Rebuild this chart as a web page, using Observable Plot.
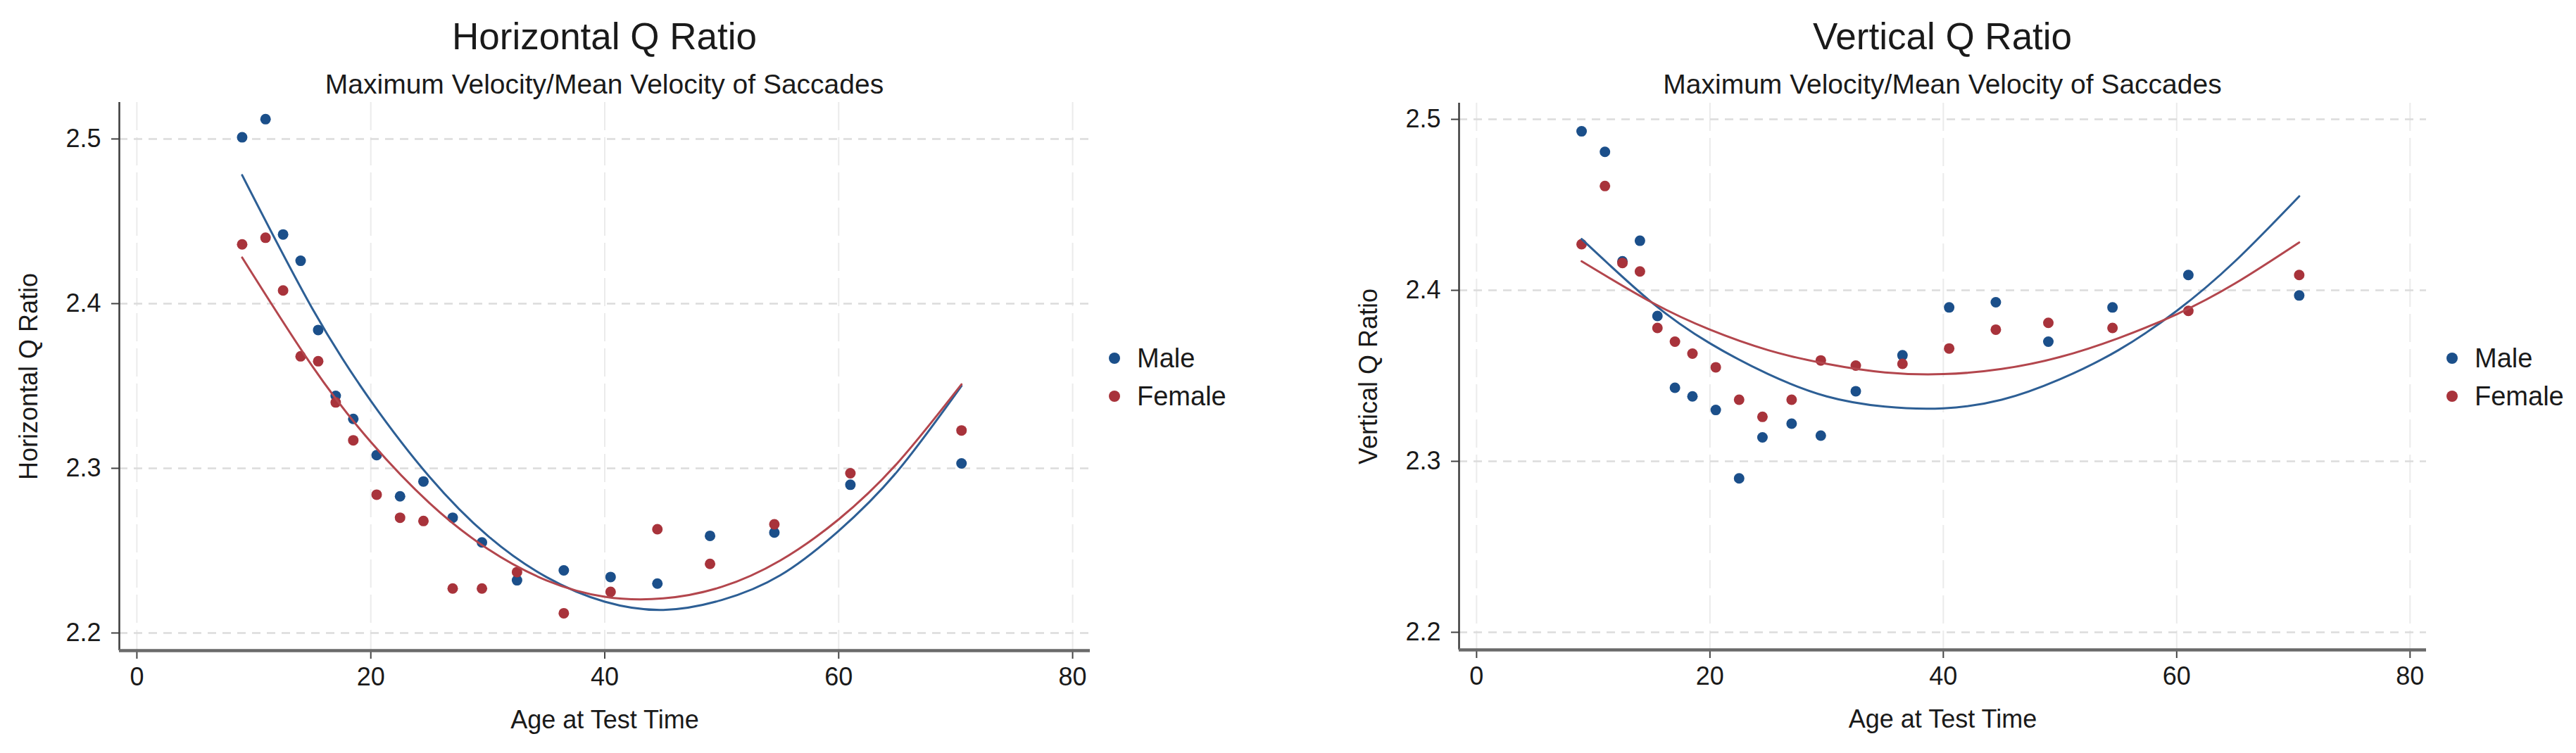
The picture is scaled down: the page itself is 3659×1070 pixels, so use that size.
<!DOCTYPE html>
<html>
<head>
<meta charset="utf-8">
<script src="https://cdn.jsdelivr.net/npm/d3@7"></script>
<script src="https://cdn.jsdelivr.net/npm/@observablehq/plot@0.6"></script>
<style>
  body { margin: 0; background: #fff; font-family: "Liberation Sans", Arial, sans-serif; color: #1a1a1a; }
  #page { position: relative; width: 3659px; height: 1070px; overflow: hidden; background: #fff; }
  .title, .subtitle { position: absolute; text-align: center; white-space: nowrap; }
  .title { font-size: 53px; line-height: 53px; top: 25px; }
  .subtitle { font-size: 39px; line-height: 39px; top: 100px; }
  .chart { position: absolute; top: 130px; }
  .legend { position: absolute; top: 482px; font-size: 38px; }
  .legend .row { display: flex; align-items: center; height: 54px; line-height: 54px; }
  .legend .dot { width: 16px; height: 16px; border-radius: 50%; margin-right: 24px; }
</style>
</head>
<body>
<div id="page"></div>
<script>
// age groups (years)
const ages = [9, 11, 12.5, 14, 15.5, 17, 18.5, 20.5, 22.5, 24.5, 27, 29.5, 32.5, 36.5, 40.5, 44.5, 49, 54.5, 61, 70.5]

// group means
const horizMale   = [2.501, 2.512, 2.442, 2.426, 2.384, 2.344, 2.330, 2.308, 2.283, 2.292, 2.270, 2.255, 2.232, 2.238, 2.234, 2.230, 2.259, 2.261, 2.290, 2.303]
const horizFemale = [2.436, 2.440, 2.408, 2.368, 2.365, 2.340, 2.317, 2.284, 2.270, 2.268, 2.227, 2.227, 2.237, 2.212, 2.225, 2.263, 2.242, 2.266, 2.297, 2.323]
const vertMale    = [2.493, 2.481, 2.417, 2.429, 2.385, 2.343, 2.338, 2.330, 2.290, 2.314, 2.322, 2.315, 2.341, 2.362, 2.390, 2.393, 2.370, 2.390, 2.409, 2.397]
const vertFemale  = [2.427, 2.461, 2.416, 2.411, 2.378, 2.370, 2.363, 2.355, 2.336, 2.326, 2.336, 2.359, 2.356, 2.357, 2.366, 2.377, 2.381, 2.378, 2.388, 2.409]

// fitted curves
const fitAges        = [9, 15, 20, 25, 30, 35, 40, 45, 50, 55, 60, 65, 70.5]
const horizFitMale   = [2.478, 2.397, 2.341, 2.295, 2.259, 2.234, 2.219, 2.214, 2.220, 2.235, 2.262, 2.298, 2.350]
const horizFitFemale = [2.428, 2.362, 2.316, 2.279, 2.251, 2.232, 2.222, 2.221, 2.228, 2.244, 2.269, 2.303, 2.351]
const vertFitMale    = [2.430, 2.393, 2.369, 2.351, 2.338, 2.332, 2.331, 2.336, 2.348, 2.365, 2.388, 2.417, 2.455]
const vertFitFemale  = [2.417, 2.393, 2.377, 2.365, 2.357, 2.352, 2.351, 2.354, 2.361, 2.372, 2.386, 2.404, 2.428]

const sexes = ['Male', 'Female']
const dotColors = ['#1b4f8a', '#a8333b']
const lineColors = ['#2d5f95', '#b3464d']

const xTicks = [0, 20, 40, 60, 80]
const yTicks = [2.2, 2.3, 2.4, 2.5]

const page = d3.select('#page')

function drawPanel(p) {
  const points = sexes.flatMap((s, i) =>
    ages.map((a, j) => ({age: a, value: (i ? p.female : p.male)[j], sex: s})))
  const fit = (vals) => fitAges.map((a, j) => ({age: a, value: vals[j]}))

  const frameLeft = p.left + p.marginLeft
  const frameWidth = p.width - p.marginLeft - p.marginRight

  page.append('div').attr('class', 'title')
    .style('left', frameLeft + 'px').style('width', frameWidth + 'px')
    .text(p.title)
  page.append('div').attr('class', 'subtitle')
    .style('left', frameLeft + 'px').style('width', frameWidth + 'px')
    .text('Maximum Velocity/Mean Velocity of Saccades')

  let chart = Plot.plot({
    width: p.width,
    height: 940,
    marginLeft: p.marginLeft,
    marginRight: p.marginRight,
    marginTop: p.marginTop,
    marginBottom: p.marginBottom,
    x: {domain: p.xDomain},
    y: {domain: p.yDomain},
    color: {domain: sexes, range: dotColors},
    marks: [
      Plot.gridX({ticks: xTicks, stroke: '#ebebeb', strokeOpacity: 1, strokeWidth: 2, strokeDasharray: '40,10'}),
      Plot.gridY({ticks: yTicks, stroke: '#dcdcdc', strokeOpacity: 1, strokeWidth: 2.5, strokeDasharray: '12,9'}),
      Plot.axisX({
        ticks: xTicks, tickSize: 12, tickPadding: 12,
        stroke: '#444', strokeWidth: 2,
        label: 'Age at Test Time', labelAnchor: 'center', labelOffset: 110, labelArrow: 'none'
      }),
      Plot.axisY({
        ticks: yTicks, tickFormat: d3.format('.1f'), tickSize: 11, tickPadding: 15,
        stroke: '#444', strokeWidth: 2,
        label: p.yLabel, labelAnchor: 'center', labelOffset: 142, labelArrow: 'none'
      }),
      // axis lines along the left and bottom edges of the frame
      Plot.ruleX([p.xDomain[0]], {stroke: '#3a3a3a', strokeWidth: 2.5}),
      Plot.ruleY([p.yDomain[0]], {stroke: '#6a6a6a', strokeWidth: 4.5}),
      Plot.dot(points, {x: 'age', y: 'value', fill: 'sex', r: 7.5}),
      Plot.line(fit(p.fitMale), {x: 'age', y: 'value', stroke: lineColors[0], strokeWidth: 3, curve: 'natural'}),
      Plot.line(fit(p.fitFemale), {x: 'age', y: 'value', stroke: lineColors[1], strokeWidth: 3, curve: 'natural'}),
    ],
    style: {
      fontSize: '36px',
      fontFamily: '"Liberation Sans", Arial, sans-serif',
      color: '#1a1a1a',
      background: 'transparent',
      overflow: 'visible',
    },
  })
  page.append('div').attr('class', 'chart').style('left', p.left + 'px').append(() => chart)

  const legend = page.append('div').attr('class', 'legend').style('left', p.legendLeft + 'px')
  sexes.forEach((s, i) => {
    const row = legend.append('div').attr('class', 'row')
    row.append('div').attr('class', 'dot').style('background', dotColors[i])
    row.append('span').text(s)
  })
}

drawPanel({
  title: 'Horizontal Q Ratio', yLabel: 'Horizontal Q Ratio',
  male: horizMale, female: horizFemale, fitMale: horizFitMale, fitFemale: horizFitFemale,
  left: 0, width: 1570, marginLeft: 169, marginRight: 22, marginTop: 15, marginBottom: 146,
  xDomain: [-1.5, 81.5], yDomain: [2.1893, 2.5222], legendLeft: 1575,
})

drawPanel({
  title: 'Vertical Q Ratio', yLabel: 'Vertical Q Ratio',
  male: vertMale, female: vertFemale, fitMale: vertFitMale, fitFemale: vertFitFemale,
  left: 1900, width: 1570, marginLeft: 172, marginRight: 24, marginTop: 16, marginBottom: 147,
  xDomain: [-1.5, 81.4], yDomain: [2.1897, 2.5095], legendLeft: 3475,
})
</script>
</body>
</html>
